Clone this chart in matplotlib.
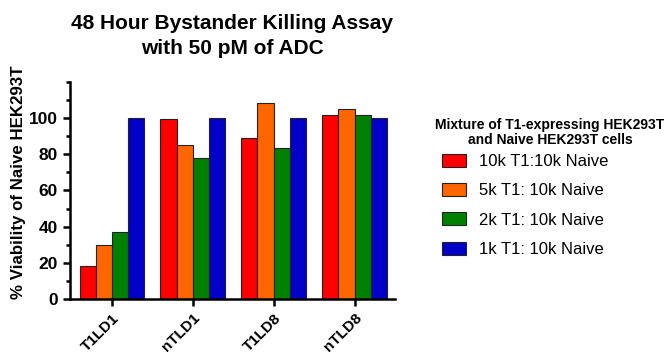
import matplotlib
matplotlib.use("Agg")
import matplotlib.pyplot as plt
import numpy as np
from matplotlib.ticker import MultipleLocator

plt.rcParams['font.family'] = ['Liberation Sans', 'DejaVu Sans']

# 数据
groups = ['T1LD1', 'nTLD1', 'T1LD8', 'nTLD8']
series_names = ['10k T1:10k Naive', '5k T1: 10k Naive', '2k T1: 10k Naive', '1k T1: 10k Naive']
vals_10k = [18, 99.5, 89, 101.5]
vals_5k = [30, 85, 108.5, 105]
vals_2k = [37, 78, 83.5, 101.5]
vals_1k = [100, 100, 100, 100]

COLORS = ['#FF0000', '#FF6600', '#008000', '#0000C8']

fig = plt.figure(figsize=(6.65, 3.56), dpi=100)
ax = fig.add_axes([0.105, 0.16, 0.489, 0.61])

x = np.arange(len(groups))
width = 0.2
all_vals = [vals_10k, vals_5k, vals_2k, vals_1k]
for i, (vals, name) in enumerate(zip(all_vals, series_names)):
    ax.bar(x + (i - 1.5) * width, vals, width, color=COLORS[i], edgecolor='#222222',
           linewidth=0.8, label=name)

ax.set_xlim(-0.52, 3.5)
ax.set_ylim(0, 120)
ax.yaxis.set_minor_locator(MultipleLocator(10))
ax.set_yticks([0, 20, 40, 60, 80, 100])
ax.set_xticks(x)
ax.set_xticklabels(groups, rotation=45, ha='right', rotation_mode='anchor',
                   fontsize=11, fontweight='bold')
for lbl in ax.get_yticklabels():
    lbl.set_fontsize(12.5)
    lbl.set_fontweight('bold')

for side in ['top', 'right']:
    ax.spines[side].set_visible(False)
for side in ['left', 'bottom']:
    ax.spines[side].set_linewidth(1.8)
ax.tick_params(axis='both', which='major', width=1.8, length=5)
ax.tick_params(axis='y', which='minor', width=1.8, length=3)

ax.set_ylabel('% Viability of Naive HEK293T', fontsize=12.2, fontweight='bold')
ax.yaxis.set_label_coords(-0.135, 0.54)
ax.set_title('48 Hour Bystander Killing Assay\nwith 50 pM of ADC', fontsize=15,
             fontweight='bold', pad=20, linespacing=1.4)

# 图例标题单独放置，居中两行
fig.text(0.827, 0.628, 'Mixture of T1-expressing HEK293T\nand Naive HEK293T cells',
         ha='center', va='center', fontsize=10, fontweight='bold', linespacing=1.05)
leg = ax.legend(loc='upper left', bbox_to_anchor=(0.664, 0.568), bbox_transform=fig.transFigure,
                frameon=False, fontsize=12, borderpad=0, borderaxespad=0,
                handlelength=1.45, handleheight=0.8, labelspacing=0.85)

plt.savefig('out.png', dpi=100)
